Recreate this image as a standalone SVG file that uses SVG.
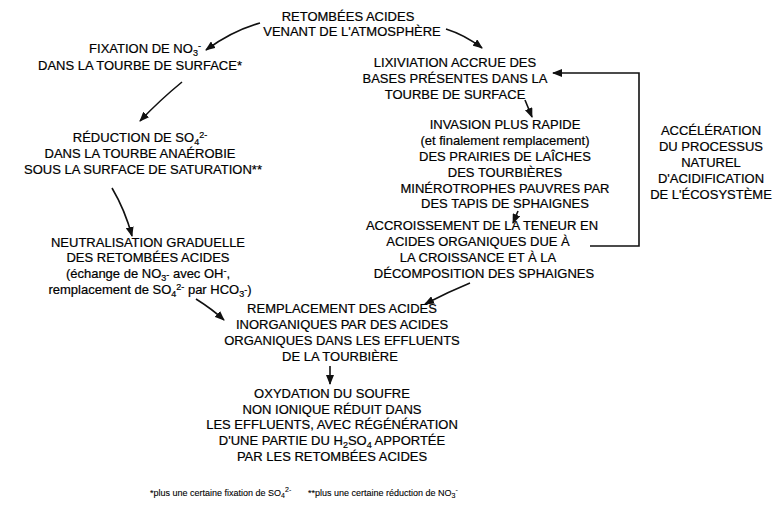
<svg xmlns="http://www.w3.org/2000/svg" width="777" height="516" viewBox="0 0 777 516">
<style>
text{font-family:"Liberation Sans",Arial,sans-serif;font-size:13px;fill:#000;stroke:#000;stroke-width:0.2;text-anchor:middle}
.fn{font-size:9px;stroke-width:0.1;text-anchor:start}
.s{font-size:9px}
.fs{font-size:7px}
.c{fill:none;stroke:#111;stroke-width:1.6}
</style>
<defs>
<marker id="ah" viewBox="0 0 10 8" refX="9" refY="4" markerWidth="10" markerHeight="8" markerUnits="userSpaceOnUse" orient="auto">
<path d="M0,0 L10,4 L0,8 z" fill="#111"/>
</marker>
</defs>
<rect width="777" height="516" fill="#fff"/>
<g id="connectors">
<path class="c" d="M260,23 Q232,31 206,50" marker-end="url(#ah)"/>
<path class="c" d="M446,29 Q465,35 482,48" marker-end="url(#ah)"/>
<path class="c" d="M182,82 Q160,100 140,121" marker-end="url(#ah)"/>
<path class="c" d="M112,188 Q125,210 132,236" marker-end="url(#ah)"/>
<path class="c" d="M196,299 Q212,309 224,320" marker-end="url(#ah)"/>
<path class="c" d="M525,100 L532,117" marker-end="url(#ah)"/>
<path class="c" d="M518,211 L513,223" marker-end="url(#ah)"/>
<path class="c" d="M470,283 Q448,292 425,304" marker-end="url(#ah)"/>
<path class="c" d="M330,366 L330,384" marker-end="url(#ah)"/>
<path class="c" d="M590,246 L639,246 L639,73 L553,73" marker-end="url(#ah)"/>
</g>
<g id="n-retombees">
<text x="348" y="21">RETOMBÉES ACIDES</text>
<text x="352" y="36">VENANT DE L'ATMOSPHÈRE</text>
</g>
<g id="n-fixation">
<text x="145" y="53">FIXATION DE NO<tspan class="s" dy="3">3</tspan><tspan class="s" dy="-7">-</tspan></text>
<text x="140" y="70">DANS LA TOURBE DE SURFACE*</text>
</g>
<g id="n-lixiviation">
<text x="455" y="67">LIXIVIATION ACCRUE DES</text>
<text x="455" y="83">BASES PRÉSENTES DANS LA</text>
<text x="455" y="99">TOURBE DE SURFACE</text>
</g>
<g id="n-reduction">
<text x="140" y="142">RÉDUCTION DE SO<tspan class="s" dy="3">4</tspan><tspan class="s" dy="-7">2-</tspan></text>
<text x="140" y="158">DANS LA TOURBE ANAÉROBIE</text>
<text x="143" y="174">SOUS LA SURFACE DE SATURATION**</text>
</g>
<g id="n-invasion">
<text x="505" y="129">INVASION PLUS RAPIDE</text>
<text x="505" y="145">(et finalement remplacement)</text>
<text x="505" y="161">DES PRAIRIES DE LAÎCHES</text>
<text x="505" y="177">DES TOURBIÈRES</text>
<text x="505" y="193">MINÉROTROPHES PAUVRES PAR</text>
<text x="505" y="208">DES TAPIS DE SPHAIGNES</text>
</g>
<g id="n-acceleration">
<text x="711" y="135">ACCÉLÉRATION</text>
<text x="711" y="151">DU PROCESSUS</text>
<text x="711" y="167">NATUREL</text>
<text x="711" y="183">D'ACIDIFICATION</text>
<text x="711" y="199">DE L'ÉCOSYSTÈME</text>
</g>
<g id="n-neutralisation">
<text x="148" y="247">NEUTRALISATION GRADUELLE</text>
<text x="148" y="262">DES RETOMBÉES ACIDES</text>
<text x="148" y="278">(échange de NO<tspan class="s" dy="3">3</tspan><tspan class="s" dy="-3">-</tspan> avec OH<tspan class="s" dy="-4">-</tspan><tspan dy="4">,</tspan></text>
<text x="150" y="294">remplacement de SO<tspan class="s" dy="3">4</tspan><tspan class="s" dy="-7">2-</tspan><tspan dy="4"> par HCO</tspan><tspan class="s" dy="3">3</tspan><tspan class="s" dy="-4">-</tspan><tspan dy="1">)</tspan></text>
</g>
<g id="n-accroissement">
<text x="482" y="230">ACCROISSEMENT DE LA TENEUR EN</text>
<text x="478" y="246">ACIDES ORGANIQUES DUE À</text>
<text x="478" y="262">LA CROISSANCE ET À LA</text>
<text x="484" y="278">DÉCOMPOSITION DES SPHAIGNES</text>
</g>
<g id="n-remplacement">
<text x="342" y="313">REMPLACEMENT DES ACIDES</text>
<text x="342" y="329">INORGANIQUES PAR DES ACIDES</text>
<text x="342" y="345">ORGANIQUES DANS LES EFFLUENTS</text>
<text x="340" y="361">DE LA TOURBIÈRE</text>
</g>
<g id="n-oxydation">
<text x="332" y="398">OXYDATION DU SOUFRE</text>
<text x="332" y="414">NON IONIQUE RÉDUIT DANS</text>
<text x="332" y="429">LES EFFLUENTS, AVEC RÉGÉNÉRATION</text>
<text x="332" y="445">D'UNE PARTIE DU H<tspan class="s" dy="3">2</tspan><tspan dy="-3">SO</tspan><tspan class="s" dy="3">4</tspan><tspan dy="-3"> APPORTÉE</tspan></text>
<text x="332" y="461">PAR LES RETOMBÉES ACIDES</text>
</g>
<g id="footnotes">
<text class="fn" x="150" y="496">*plus une certaine fixation de SO<tspan class="fs" dy="2">4</tspan><tspan class="fs" dy="-6">2-</tspan></text>
<text class="fn" x="308" y="496">**plus une certaine réduction de NO<tspan class="fs" dy="2">3</tspan><tspan class="fs" dy="-6">-</tspan></text>
</g>
</svg>
